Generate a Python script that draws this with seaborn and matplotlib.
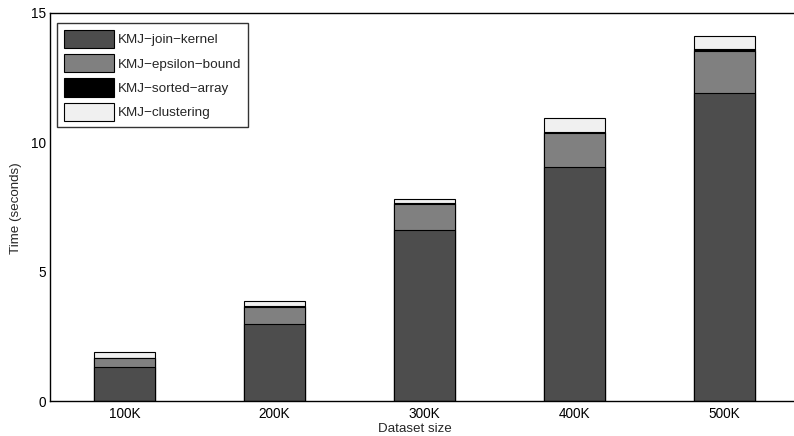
import matplotlib
matplotlib.use("Agg")
import matplotlib.pyplot as plt
import seaborn as sns
import pandas as pd
import numpy as np
from matplotlib.patches import Patch

categories = ["100K", "200K", "300K", "400K", "500K"]
kernel = [1.33, 2.98, 6.61, 9.03, 11.92]
epsilon = [0.32, 0.67, 0.99, 1.32, 1.63]
sorted_arr = [0.02, 0.03, 0.05, 0.06, 0.07]
clustering = [0.21, 0.19, 0.14, 0.52, 0.50]
series_names = ["KMJ\u2212join\u2212kernel", "KMJ\u2212epsilon\u2212bound",
                "KMJ\u2212sorted\u2212array", "KMJ\u2212clustering"]
colors = ["#4d4d4d", "#808080", "#000000", "#f0f0f0"]
yticks = [0, 5, 10, 15]

sns.set_style("white")
plt.rcParams["font.family"] = ["Liberation Sans", "DejaVu Sans"]

fig = plt.figure(figsize=(7.94, 4.36), dpi=100)
ax = fig.add_axes([50 / 794, 35 / 436, 744 / 794, 388 / 436])

layers = [kernel, epsilon, sorted_arr, clustering]
cum = np.cumsum(np.array(layers), axis=0)
# draw from the top layer down so lower segments overlay upper totals
for i in range(len(layers) - 1, -1, -1):
    df = pd.DataFrame({"cat": categories, "val": cum[i]})
    sns.barplot(data=df, x="cat", y="val", color=colors[i], saturation=1,
                width=0.41, edgecolor="black", linewidth=0.8, ax=ax, zorder=2)

ax.set_xlim(-0.497, 4.463)
ax.set_ylim(0, 15)
ax.set_yticks(yticks)
ax.set_yticklabels([str(t) for t in yticks])
ax.tick_params(axis="both", direction="in", length=5, width=0.8,
               labelsize=9.8, colors="black")
ax.tick_params(axis="x", length=0, pad=4)
ax.tick_params(axis="y", pad=3)
for s in ["left", "bottom", "top"]:
    ax.spines[s].set_color("black")
    ax.spines[s].set_linewidth(1.0)
ax.spines["right"].set_visible(False)

ax.set_xlabel("Dataset size", fontsize=9.6)
ax.set_ylabel("Time (seconds)", fontsize=9.6)
ax.xaxis.set_label_coords((415 - 50) / 744, -0.057)
ax.yaxis.set_label_coords(-0.038, 0.497)

handles = [Patch(facecolor=c, edgecolor="black", linewidth=0.8) for c in colors]
leg = ax.legend(handles, series_names, loc="upper left",
                bbox_to_anchor=(0.0094, 0.974), fontsize=9.7, frameon=True,
                fancybox=False, handlelength=3.7, handleheight=1.7,
                handletextpad=0.3, borderpad=0.5, labelspacing=0.45,
                borderaxespad=0)
leg.get_frame().set_edgecolor("black")
leg.get_frame().set_linewidth(1.0)

fig.savefig("out.png", dpi=100)
